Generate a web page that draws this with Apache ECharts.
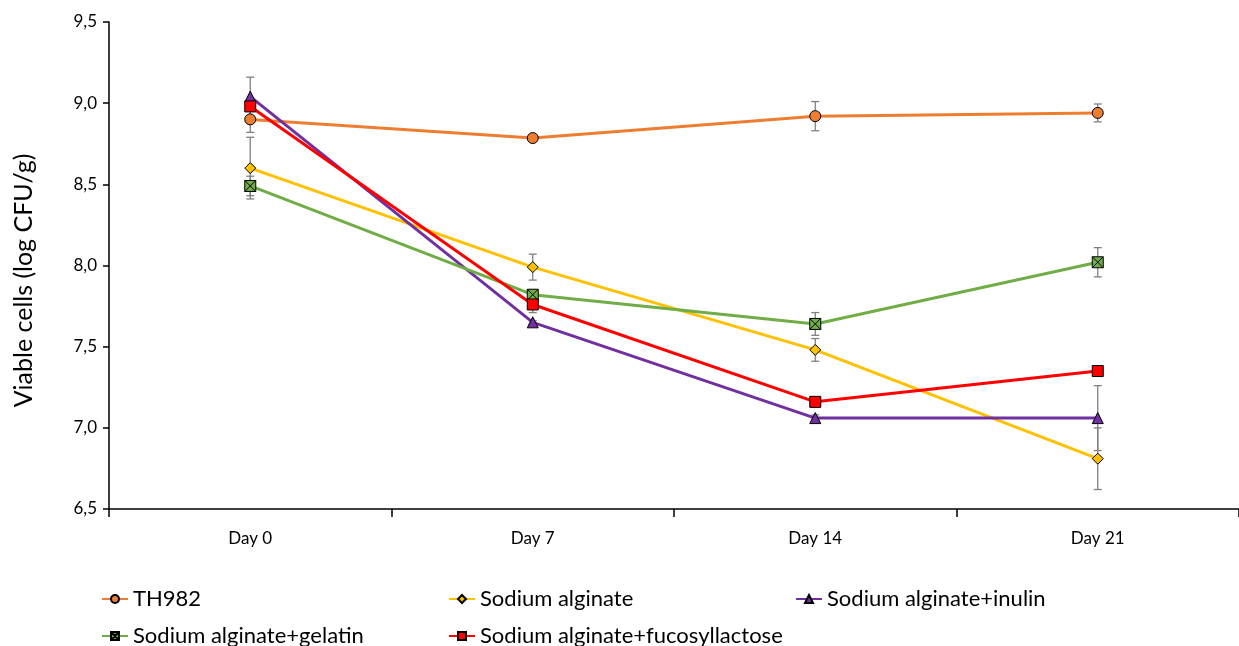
<!DOCTYPE html>
<html>
<head>
<meta charset="utf-8">
<script src="https://cdn.jsdelivr.net/npm/echarts@6/dist/echarts.min.js"></script>
<style>
    html, body { margin: 0; padding: 0; background: #fff; }
    #chart { width: 1239px; height: 646px; }
</style>
</head>
<body>
<div id="chart"></div>
<script>
// data
var days = ['Day 0', 'Day 7', 'Day 14', 'Day 21'];
var yTicks = [6.5, 7.0, 7.5, 8.0, 8.5, 9.0, 9.5];

var th982 = [8.90, 8.785, 8.92, 8.94];
var th982Err = [0.08, 0.01, 0.09, 0.055];
var alginate = [8.60, 7.99, 7.48, 6.81];
var alginateErr = [0.19, 0.08, 0.07, 0.19];
var inulin = [9.04, 7.65, 7.06, 7.06];
var inulinErr = [0.12, 0.01, 0.02, 0.20];
var gelatin = [8.49, 7.82, 7.64, 8.02];
var gelatinErr = [0.06, 0.03, 0.07, 0.09];
var fucosyl = [8.98, 7.76, 7.16, 7.35];
var fucosylErr = [0.02, 0.05, 0.03, 0.01];

var font = 'Lato, "Open Sans", sans-serif';
var xMark = 'path://M0,0 L10,0 L10,10 L0,10 Z M0,0 L10,10 M10,0 L0,10';

function errData(vals, errs) {
    var res = [];
    for (var i = 0; i < vals.length; i++) {
        res.push([i, vals[i] - errs[i], vals[i] + errs[i]]);
    }
    return res;
}

function errSeries(vals, errs) {
    return {
        type: 'custom',
        z: 1,
        silent: true,
        data: errData(vals, errs),
        renderItem: function (params, api) {
            var lo = api.coord([api.value(0), api.value(1)]);
            var hi = api.coord([api.value(0), api.value(2)]);
            var w = 4;
            var st = { stroke: '#808080', lineWidth: 1.3 };
            return {
                type: 'group',
                children: [
                    { type: 'line', shape: { x1: lo[0], y1: lo[1], x2: hi[0], y2: hi[1] }, style: st },
                    { type: 'line', shape: { x1: lo[0] - w, y1: lo[1], x2: lo[0] + w, y2: lo[1] }, style: st },
                    { type: 'line', shape: { x1: hi[0] - w, y1: hi[1], x2: hi[0] + w, y2: hi[1] }, style: st }
                ]
            };
        }
    };
}

function lineSeries(name, vals, color, symbol, size) {
    return {
        name: name,
        type: 'line',
        z: 3,
        data: vals,
        symbol: symbol,
        symbolSize: size,
        showAllSymbol: true,
        lineStyle: { color: color, width: 3 },
        itemStyle: { color: color, borderColor: '#000', borderWidth: 1 }
    };
}

function legendAt(name, left, top) {
    return {
        data: [name],
        left: left,
        top: top,
        itemWidth: 26,
        itemHeight: 10,
        textStyle: { fontFamily: font, fontSize: 22, color: '#000' }
    };
}

var chart = echarts.init(document.getElementById('chart'));
var option = {
    animation: false,
    backgroundColor: '#fff',
    grid: { left: 109, right: 0, top: 22, bottom: 137 },
    legend: [
        legendAt('TH982', 96, 583),
        legendAt('Sodium alginate', 443, 583),
        legendAt('Sodium alginate+inulin', 790, 583),
        legendAt('Sodium alginate+gelatin', 96, 620),
        legendAt('Sodium alginate+fucosyllactose', 443, 620)
    ],
    xAxis: {
        type: 'category',
        data: days,
        boundaryGap: true,
        axisLine: { lineStyle: { color: '#000', width: 1.5 } },
        axisTick: { show: true, length: 8, lineStyle: { color: '#000', width: 1.5 } },
        axisLabel: { fontFamily: font, fontSize: 17, color: '#000', margin: 21 },
        splitLine: { show: false }
    },
    yAxis: {
        type: 'value',
        min: yTicks[0],
        max: yTicks[yTicks.length - 1],
        interval: 0.5,
        name: 'Viable cells (log CFU/g)',
        nameLocation: 'middle',
        nameGap: 73,
        nameTextStyle: { fontFamily: font, fontSize: 25, color: '#000', padding: [0, 30, 0, 0] },
        axisLine: { show: true, lineStyle: { color: '#000', width: 1.5 } },
        axisTick: { show: true, length: 6, lineStyle: { color: '#000', width: 1.5 } },
        axisLabel: {
            fontFamily: font, fontSize: 17, color: '#000', margin: 12,
            formatter: function (v) { return v.toFixed(1).replace('.', ','); }
        },
        splitLine: { show: false }
    },
    series: [
        errSeries(th982, th982Err),
        errSeries(alginate, alginateErr),
        errSeries(inulin, inulinErr),
        errSeries(gelatin, gelatinErr),
        errSeries(fucosyl, fucosylErr),
        lineSeries('TH982', th982, '#ED7D31', 'circle', 11),
        lineSeries('Sodium alginate', alginate, '#FFC000', 'diamond', 11),
        lineSeries('Sodium alginate+inulin', inulin, '#7030A0', 'triangle', 11),
        lineSeries('Sodium alginate+gelatin', gelatin, '#70AD47', xMark, 11),
        lineSeries('Sodium alginate+fucosyllactose', fucosyl, '#FF0000', 'rect', 11)
    ]
};
chart.setOption(option);
</script>
</body>
</html>
